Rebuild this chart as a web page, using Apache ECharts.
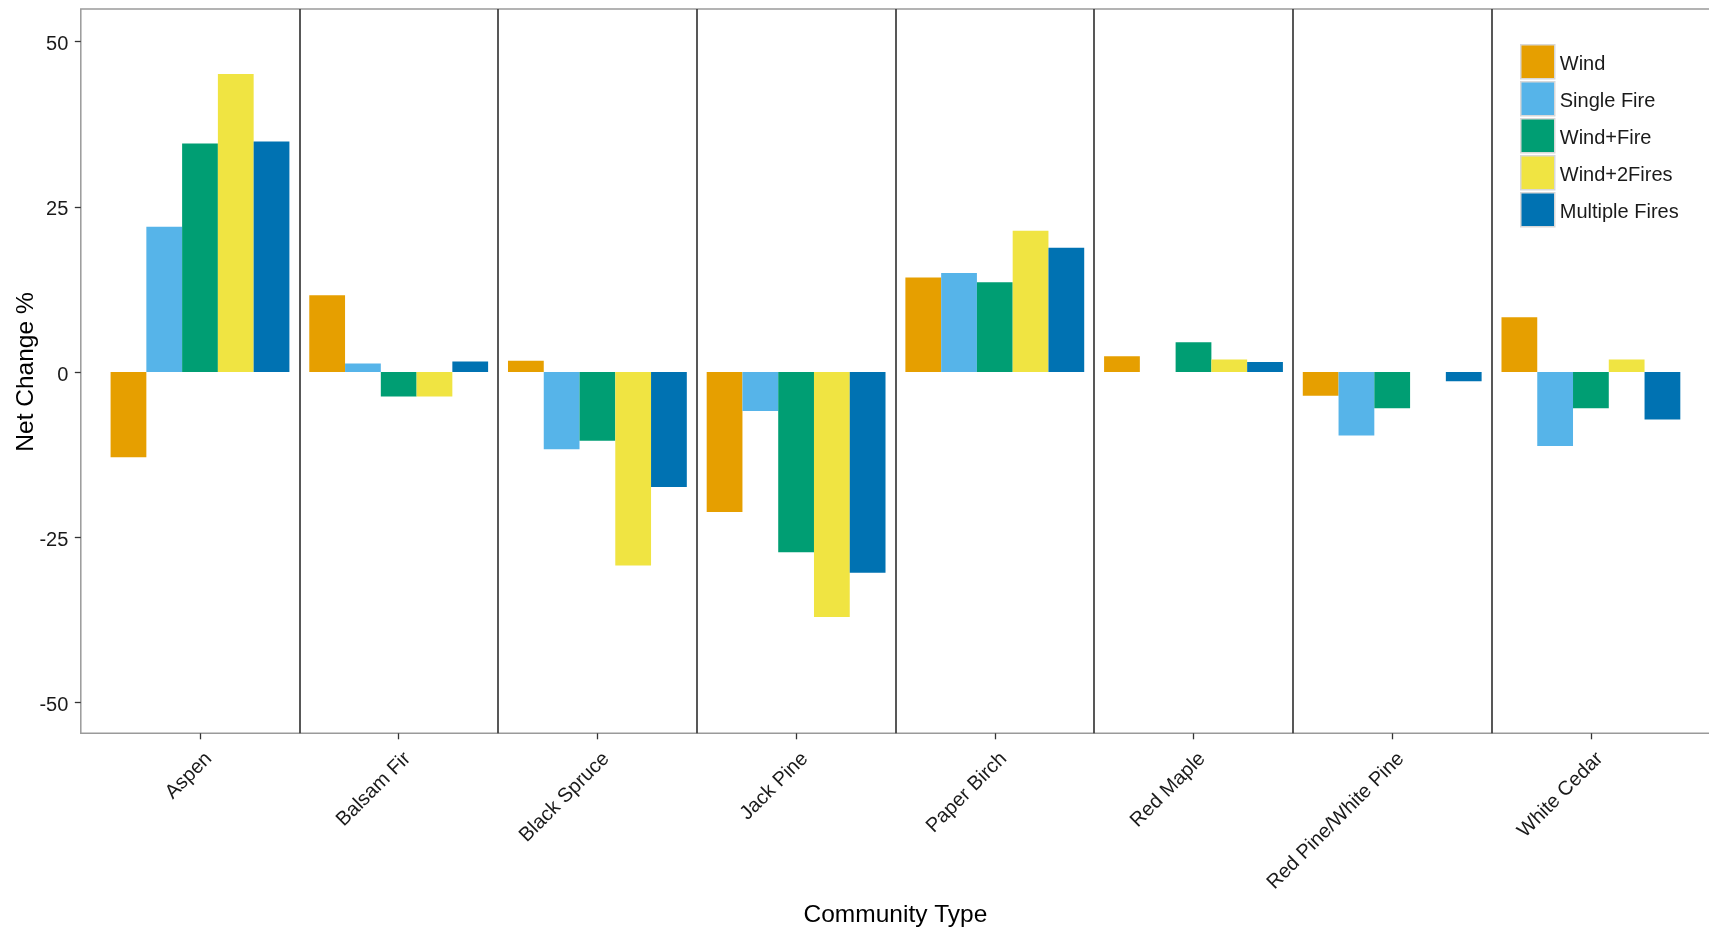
<!DOCTYPE html>
<html>
<head>
<meta charset="utf-8">
<title>Net Change by Community Type</title>
<script src="https://cdn.jsdelivr.net/npm/echarts@6/dist/echarts.min.js"></script>
<style>
  html, body { margin: 0; padding: 0; background: #ffffff; }
  #chart { width: 1709px; height: 934px; }
</style>
</head>
<body>
<div id="chart"></div>
<script>
// Community types along the x axis
const categories = ['Aspen', 'Balsam Fir', 'Black Spruce', 'Jack Pine', 'Paper Birch', 'Red Maple', 'Red Pine/White Pine', 'White Cedar'];

// Net change (%) per disturbance scenario, one value per community type
const wind          = [-12.9, 11.6,   1.7, -21.2, 14.3,  2.4, -3.6,   8.3];
const singleFire    = [ 22.0,  1.3, -11.7,  -5.9, 15.0, null, -9.6, -11.2];
const windFire      = [ 34.6, -3.7, -10.4, -27.3, 13.6,  4.5, -5.5,  -5.5];
const wind2Fires    = [ 45.1, -3.7, -29.3, -37.1, 21.4,  1.9, null,   1.9];
const multipleFires = [ 34.9,  1.6, -17.4, -30.4, 18.8,  1.5, -1.4,  -7.2];

const seriesNames  = ['Wind', 'Single Fire', 'Wind+Fire', 'Wind+2Fires', 'Multiple Fires'];
const seriesValues = [wind, singleFire, windFire, wind2Fires, multipleFires];
const seriesColors = ['#E69F00', '#56B4E9', '#009E73', '#F0E442', '#0072B2'];

// y axis tick values
const yMin = -50, yMax = 50, yStep = 25;

const FONT = '"Liberation Sans", Arial, Helvetica, sans-serif';

const chart = echarts.init(document.getElementById('chart'), null, { renderer: 'canvas' });

const option = {
  backgroundColor: '#ffffff',
  animation: false,
  textStyle: { fontFamily: FONT },
  legend: {
    orient: 'vertical',
    left: 1520,
    top: 44,
    icon: 'rect',
    itemWidth: 34,
    itemHeight: 34,
    itemGap: 1.5,
    padding: 0,
    selectedMode: false,
    itemStyle: { borderColor: '#d8d8d8', borderWidth: 1.5 },
    formatter: name => '{t|' + name + '}',
    textStyle: {
      fontFamily: FONT, fontSize: 20, color: '#1a1a1a',
      rich: { t: { fontFamily: FONT, fontSize: 20, color: '#1a1a1a', padding: [6, 0, 0, 0] } }
    },
    data: seriesNames
  },
  grid: [
    // data panel: bands sit inside the frame with extra room at both ends
    { left: 100.65, top: 41.7, width: 1589.6, height: 660.6, show: false,
      containLabel: false, outerBoundsMode: 'none' },
    // panel frame
    { left: 80.8, top: 9, width: 1629.5, height: 724.3, show: true,
      borderColor: '#9a9a9a', borderWidth: 1.5, backgroundColor: 'transparent',
      containLabel: false, outerBoundsMode: 'none' },
    // vertical dividers between community types
    { left: 299.3, top: 9, width: 1192.4, height: 724.3, show: false,
      containLabel: false, outerBoundsMode: 'none' }
  ],
  xAxis: [
    {
      type: 'category',
      gridIndex: 0,
      data: categories,
      position: 'bottom',
      offset: 31,
      axisLine: { show: false, onZero: false },
      axisTick: { show: true, alignWithLabel: true, length: 6, lineStyle: { color: '#333333', width: 1.3 } },
      axisLabel: {
        rotate: 45, margin: 13.5, verticalAlign: 'top', lineHeight: 25,
        fontSize: 20, color: '#1a1a1a', fontFamily: FONT, interval: 0
      },
      splitLine: { show: false },
      name: 'Community Type',
      nameLocation: 'middle',
      nameGap: 169,
      nameMoveOverlap: false,
      nameTextStyle: { fontSize: 24.5, color: '#000000', fontFamily: FONT }
    },
    { type: 'value', gridIndex: 1, show: false, min: 0, max: 1 },
    {
      type: 'value',
      gridIndex: 2,
      min: 0,
      max: 6,
      interval: 1,
      axisLine: { show: false, onZero: false },
      axisTick: { show: false },
      axisLabel: { show: false },
      splitLine: { show: true, lineStyle: { color: '#3a3a3a', width: 1.7 } }
    }
  ],
  yAxis: [
    {
      type: 'value',
      gridIndex: 0,
      min: yMin,
      max: yMax,
      interval: yStep,
      offset: 19.85,
      axisLine: { show: false, onZero: false },
      axisTick: { show: true, length: 6, lineStyle: { color: '#333333', width: 1.3 } },
      axisLabel: {
        margin: 12.5, verticalAlign: 'top', lineHeight: 6,
        fontSize: 20, color: '#1a1a1a', fontFamily: FONT
      },
      splitLine: { show: false },
      name: 'Net Change %',
      nameLocation: 'middle',
      nameGap: 42,
      nameRotate: 90,
      nameMoveOverlap: false,
      nameTextStyle: { fontSize: 24.5, color: '#000000', fontFamily: FONT }
    },
    { type: 'value', gridIndex: 1, show: false, min: 0, max: 1 },
    { type: 'value', gridIndex: 2, show: false, min: 0, max: 1 }
  ],
  series: seriesNames.map((name, i) => ({
    name: name,
    type: 'bar',
    xAxisIndex: 0,
    yAxisIndex: 0,
    data: seriesValues[i],
    barGap: '0%',
    barCategoryGap: '10%',
    itemStyle: { color: seriesColors[i] },
    emphasis: { disabled: true }
  }))
};

chart.setOption(option);
</script>
</body>
</html>
